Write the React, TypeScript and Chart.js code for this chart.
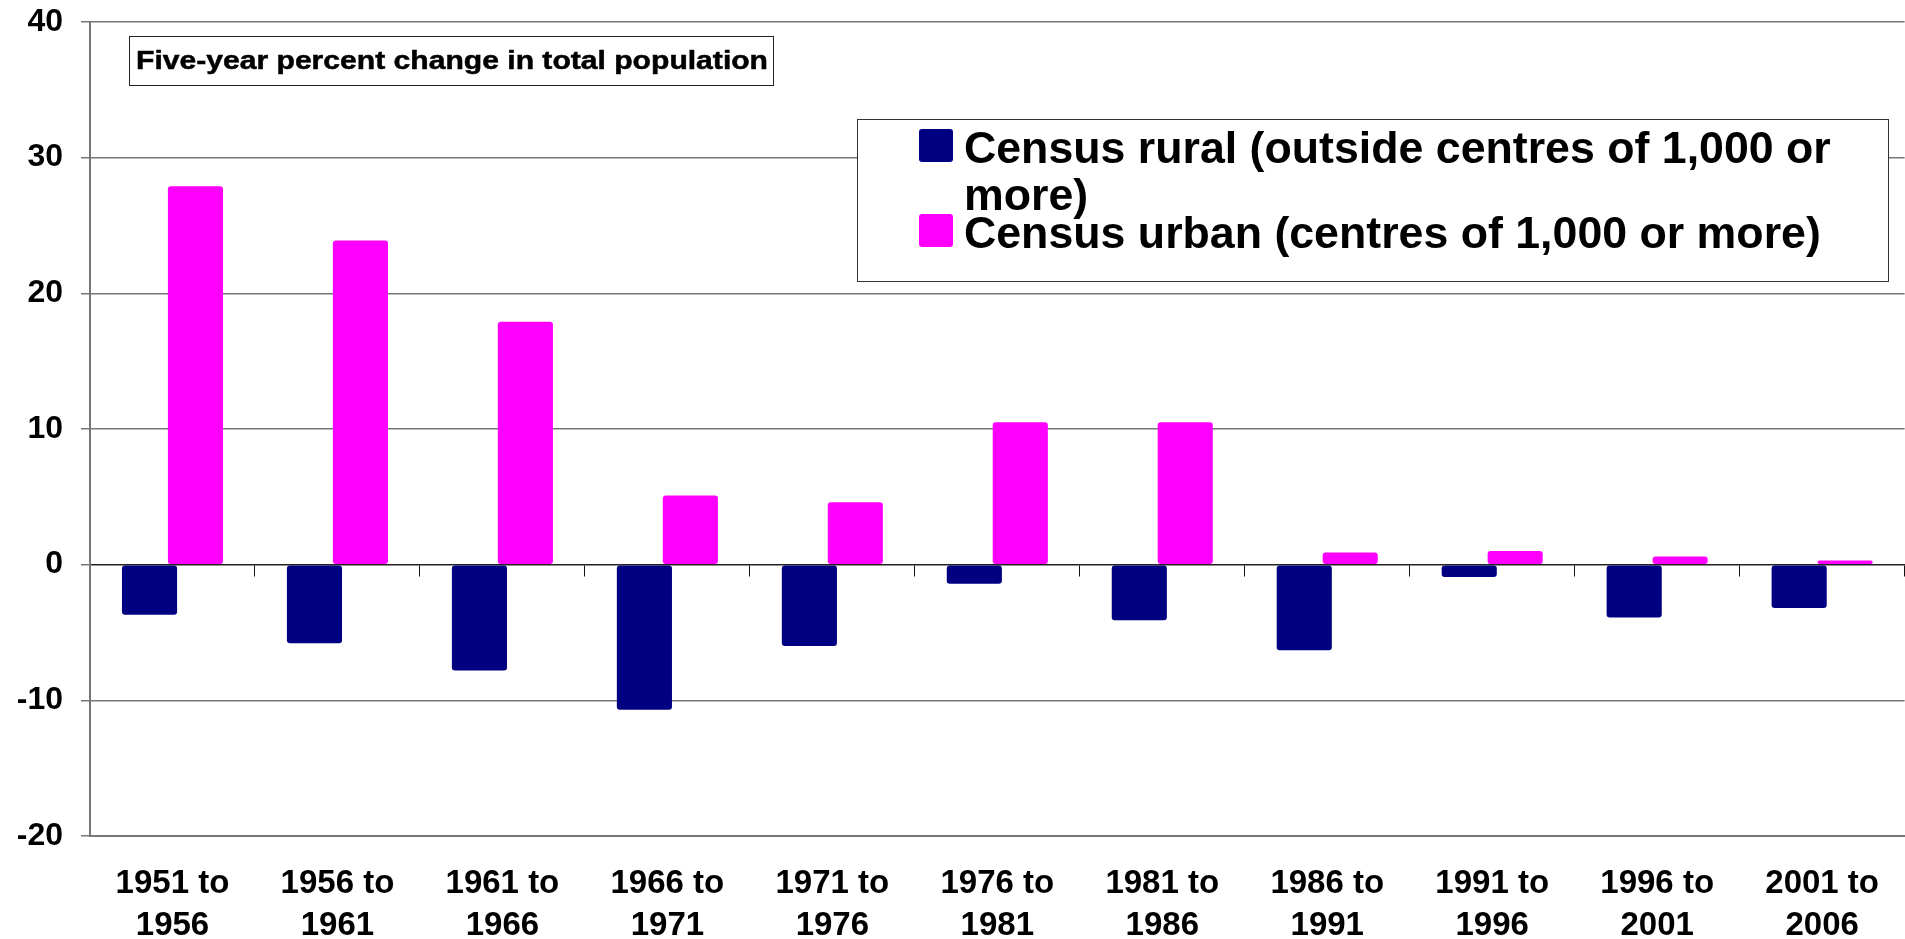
import React, { useEffect, useRef } from "react";
import { Chart, registerables } from "chart.js";

Chart.register(...registerables);

const categoryLabels: string[][] = [
  ["1951 to", "1956"],
  ["1956 to", "1961"],
  ["1961 to", "1966"],
  ["1966 to", "1971"],
  ["1971 to", "1976"],
  ["1976 to", "1981"],
  ["1981 to", "1986"],
  ["1986 to", "1991"],
  ["1991 to", "1996"],
  ["1996 to", "2001"],
  ["2001 to", "2006"],
];

const ruralValues: number[] = [-3.7, -5.8, -7.8, -10.7, -6.0, -1.4, -4.1, -6.3, -0.9, -3.9, -3.2];
const urbanValues: number[] = [27.9, 23.9, 17.9, 5.1, 4.6, 10.5, 10.5, 0.9, 1.0, 0.6, 0.3];

const ruralLabel = "Census rural (outside centres of 1,000 or more)";
const urbanLabel = "Census urban (centres of 1,000 or more)";
const chartTitle = "Five-year percent change in total population";

const yMin = -20;
const yMax = 40;
const yStep = 10;

const FONT = "'Liberation Sans', Arial, Helvetica, sans-serif";
const NAVY = "#000080";
const MAGENTA = "#FF00FF";
const GRID = "#777777";

function wrapText(ctx: CanvasRenderingContext2D, text: string, maxWidth: number): string[] {
  const words = text.split(" ");
  const lines: string[] = [];
  let cur = "";
  for (const w of words) {
    const test = cur ? cur + " " + w : w;
    if (ctx.measureText(test).width > maxWidth && cur) {
      lines.push(cur);
      cur = w;
    } else {
      cur = test;
    }
  }
  if (cur) lines.push(cur);
  return lines;
}

const overlayPlugin = {
  id: "overlayBoxes",
  afterDraw(chart: any) {
    const ctx: CanvasRenderingContext2D = chart.ctx;
    const area = chart.chartArea;
    ctx.save();

    // Title box (inside the plot area, top-left)
    const tx = area.left + 39;
    const ty = area.top + 14;
    const tw = 644;
    const th = 49;
    ctx.fillStyle = "#ffffff";
    ctx.fillRect(tx, ty, tw, th);
    ctx.strokeStyle = "#222";
    ctx.lineWidth = 1;
    ctx.strokeRect(tx + 0.5, ty + 0.5, tw, th);
    ctx.fillStyle = "#000";
    ctx.font = `bold 25px ${FONT}`;
    ctx.textAlign = "left";
    ctx.textBaseline = "alphabetic";
    const natural = ctx.measureText(chartTitle).width;
    const sx = (tw - 12) / natural;
    ctx.save();
    ctx.translate(tx + 7, ty + 33);
    ctx.scale(sx, 1);
    ctx.fillText(chartTitle, 0, 0);
    ctx.strokeStyle = "#000";
    ctx.lineWidth = 0.5;
    ctx.strokeText(chartTitle, 0, 0);
    ctx.restore();

    // Legend box
    const lx = area.left + 767;
    const ly = area.top + 97;
    const lw = 1031;
    const lh = 162;
    ctx.fillStyle = "#ffffff";
    ctx.fillRect(lx, ly, lw, lh);
    ctx.strokeStyle = "#333";
    ctx.lineWidth = 1;
    ctx.strokeRect(lx + 0.5, ly + 0.5, lw, lh);

    ctx.font = `bold 44.7px ${FONT}`;
    let y = ly + 10;
    const sqX = lx + 62;
    const textX = lx + 107;
    chart.data.datasets.forEach((ds: any) => {
      ctx.fillStyle = ds.backgroundColor;
      ctx.beginPath();
      (ctx as any).roundRect(sqX, y, 34, 33, 3);
      ctx.fill();
      ctx.fillStyle = "#000";
      const lines = wrapText(ctx, ds.label, 900);
      let baseline = y + 34;
      lines.forEach((ln, i) => {
        if (i > 0) baseline += 47;
        ctx.fillText(ln, textX, baseline);
      });
      y = baseline + 4;
    });

    ctx.restore();
  },
};

export default function App() {
  const canvasRef = useRef<HTMLCanvasElement | null>(null);

  useEffect(() => {
    if (!canvasRef.current) return;
    Chart.defaults.font.family = FONT;
    const chart = new Chart(canvasRef.current, {
      type: "bar",
      data: {
        labels: categoryLabels,
        datasets: [
          {
            label: ruralLabel,
            data: ruralValues,
            backgroundColor: NAVY,
            borderWidth: 0,
            borderRadius: 3,
            borderSkipped: false,
            categoryPercentage: 0.557,
            barPercentage: 1.2,
          },
          {
            label: urbanLabel,
            data: urbanValues,
            backgroundColor: MAGENTA,
            borderWidth: 0,
            borderRadius: 3,
            borderSkipped: false,
            categoryPercentage: 0.557,
            barPercentage: 1.2,
          },
        ],
      },
      options: {
        animation: false,
        responsive: true,
        maintainAspectRatio: false,
        layout: { padding: { top: 22, left: 0, right: 0, bottom: 0 } },
        plugins: {
          legend: { display: false },
          title: { display: false },
          tooltip: { enabled: false },
        },
        scales: {
          x: {
            type: "category",
            position: "bottom",
            offset: true,
            grid: { drawOnChartArea: false, drawTicks: false },
            border: { display: true, color: GRID, width: 2 },
            ticks: {
              color: "#000",
              font: { size: 33, weight: "bold", lineHeight: 1.3 },
              padding: 26,
              maxRotation: 0,
              autoSkip: false,
            },
            afterFit: (scale: any) => {
              scale.height = 103;
            },
          },
          xZero: {
            type: "category",
            axis: "x",
            position: { y: 0 },
            offset: true,
            grid: {
              offset: true,
              drawOnChartArea: false,
              drawTicks: true,
              tickLength: 11,
              tickColor: "#111",
              lineWidth: 1,
            },
            border: { display: true, color: "#222", width: 1.5 },
            ticks: { display: false },
            afterFit: (scale: any) => {
              scale.height = 0;
            },
          } as any,
          y: {
            type: "linear",
            position: "left",
            min: yMin,
            max: yMax,
            ticks: {
              stepSize: yStep,
              color: "#000",
              font: { size: 32, weight: "bold" },
              padding: 18,
            },
            grid: {
              color: (c: any) => (c.tick && c.tick.value === 0 ? "rgba(0,0,0,0)" : GRID),
              lineWidth: 1.5,
              tickLength: 9,
              tickColor: GRID,
            },
            border: { display: true, color: GRID, width: 2 },
            afterFit: (scale: any) => {
              scale.width = 90;
              scale.paddingTop = 0;
              scale.paddingBottom = 0;
            },
          },
        },
      },
      plugins: [overlayPlugin],
    } as any);
    return () => chart.destroy();
  }, []);

  return (
    <div style={{ position: "fixed", left: 0, top: 0, width: "100vw", height: "100vh", background: "#fff" }}>
      <canvas ref={canvasRef} />
    </div>
  );
}
